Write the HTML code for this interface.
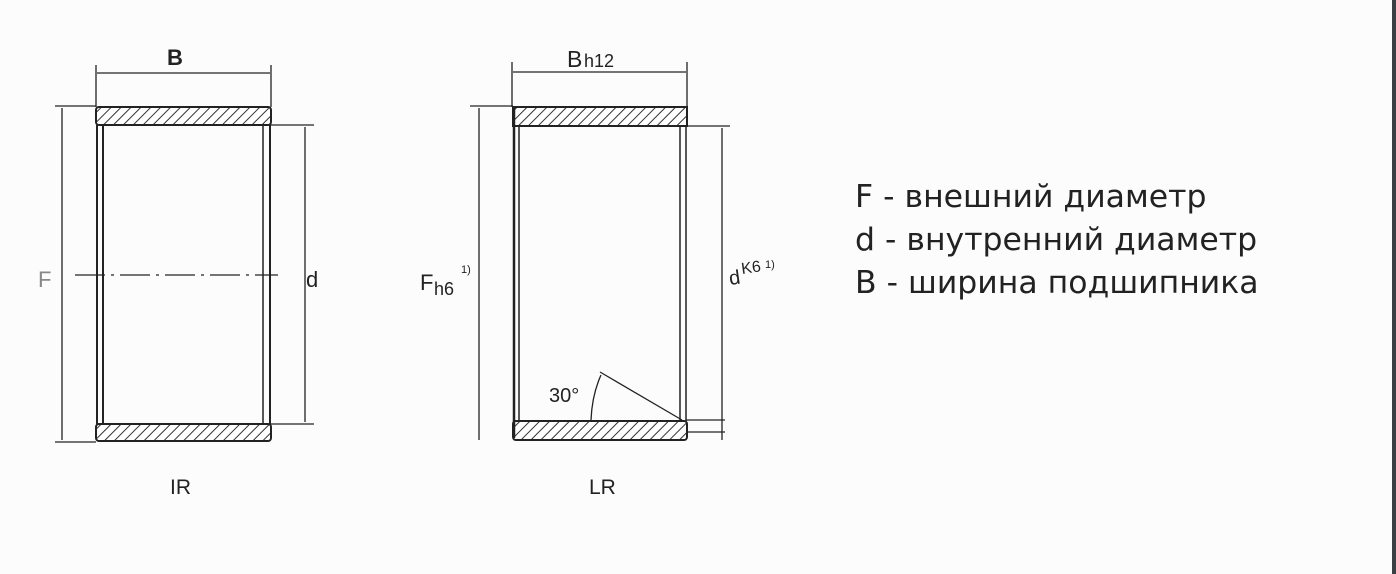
<!DOCTYPE html>
<html><head><meta charset="utf-8"><style>
body{margin:0;background:#fcfcfc;}
.w{position:relative;width:1396px;height:574px;overflow:hidden;background:#fcfcfc;font-family:"Liberation Sans",sans-serif;}
.bar{position:absolute;left:1392px;top:0;width:4px;height:574px;background:#3a3f44;}
.t{position:absolute;left:855px;font-size:31.5px;color:#222;font-family:"DejaVu Sans","Liberation Sans",sans-serif;}
</style></head><body><div class="w">
<svg width="1396" height="574" style="position:absolute;left:0;top:0">
<defs>
<pattern id="h" width="7" height="7" patternUnits="userSpaceOnUse" patternTransform="rotate(45)">
<rect width="7" height="7" fill="#fff"/><line x1="0" y1="0" x2="0" y2="7" stroke="#333" stroke-width="2"/></pattern>
</defs>
<g stroke="#222" fill="none" stroke-width="1.3">
<rect x="96" y="107" width="175" height="18" fill="url(#h)" stroke-width="2" rx="3"/>
<rect x="96" y="424" width="175" height="17" fill="url(#h)" stroke-width="2" rx="3"/>
<line x1="97" y1="125" x2="97" y2="424" stroke-width="2"/>
<line x1="103" y1="125" x2="103" y2="424" stroke-width="2"/>
<line x1="263" y1="125" x2="263" y2="424" stroke-width="1.5"/>
<line x1="270" y1="125" x2="270" y2="424" stroke-width="2"/>
<line x1="96" y1="65" x2="96" y2="107"/><line x1="271" y1="65" x2="271" y2="107"/>
<line x1="97" y1="73" x2="270" y2="73"/>
<line x1="55" y1="106" x2="96" y2="106"/><line x1="55" y1="442" x2="96" y2="442"/>
<line x1="62" y1="108" x2="62" y2="440"/>
<line x1="270" y1="125" x2="314" y2="125"/><line x1="270" y1="424" x2="314" y2="424"/>
<line x1="305" y1="127" x2="305" y2="422"/>
<line x1="75" y1="275" x2="278" y2="275" stroke-dasharray="30,6,3,6"/>
<rect x="513" y="107" width="174" height="19" fill="url(#h)" stroke-width="2"/>
<rect x="513" y="421" width="174" height="19" fill="url(#h)" stroke-width="2" rx="3"/>
<line x1="514" y1="106" x2="514" y2="438" stroke-width="2.5"/>
<line x1="519" y1="126" x2="519" y2="421" stroke-width="1.5"/>
<line x1="680" y1="126" x2="680" y2="421" stroke-width="1.5"/>
<line x1="686" y1="126" x2="686" y2="421" stroke-width="1.5"/>
<line x1="512" y1="62" x2="512" y2="107"/><line x1="687" y1="62" x2="687" y2="107"/>
<line x1="513" y1="72" x2="686" y2="72"/>
<line x1="470" y1="106" x2="513" y2="106"/>
<line x1="479" y1="108" x2="479" y2="440"/>
<line x1="686" y1="126" x2="730" y2="126"/>
<line x1="722" y1="128" x2="722" y2="440"/>
<line x1="686" y1="420" x2="725" y2="420"/><line x1="686" y1="432" x2="725" y2="432"/>
<line x1="600" y1="372" x2="682" y2="420"/>
<path d="M591 420 Q592 395 601 375"/>
</g>
<g fill="#222" font-family="Liberation Sans,sans-serif">
<text x="167" y="65" font-size="22" font-weight="bold">B</text>
<text x="567" y="67" font-size="23">B</text><text x="584" y="67" font-size="18">h12</text>
<text x="38" y="287" font-size="22" fill="#888">F</text>
<text x="306" y="287" font-size="22">d</text>
<text x="420" y="290" font-size="22">F</text><text x="434" y="295" font-size="18">h6</text><text x="461" y="273" font-size="11">1)</text>
<text x="730" y="285" font-size="20" transform="rotate(-8 730 285)">d</text><text x="742" y="274" font-size="16" transform="rotate(-8 742 274)">K6</text><text x="765" y="268" font-size="11">1)</text>
<text x="549" y="402" font-size="20">30°</text>
<text x="170" y="494" font-size="21">IR</text>
<text x="589" y="494" font-size="21">LR</text>
</g>
</svg>
<div class="t" style="top:179px">F - внешний диаметр</div>
<div class="t" style="top:222px">d - внутренний диаметр</div>
<div class="t" style="top:265px">B - ширина подшипника</div>
<div class="bar"></div>
</div></body></html>
